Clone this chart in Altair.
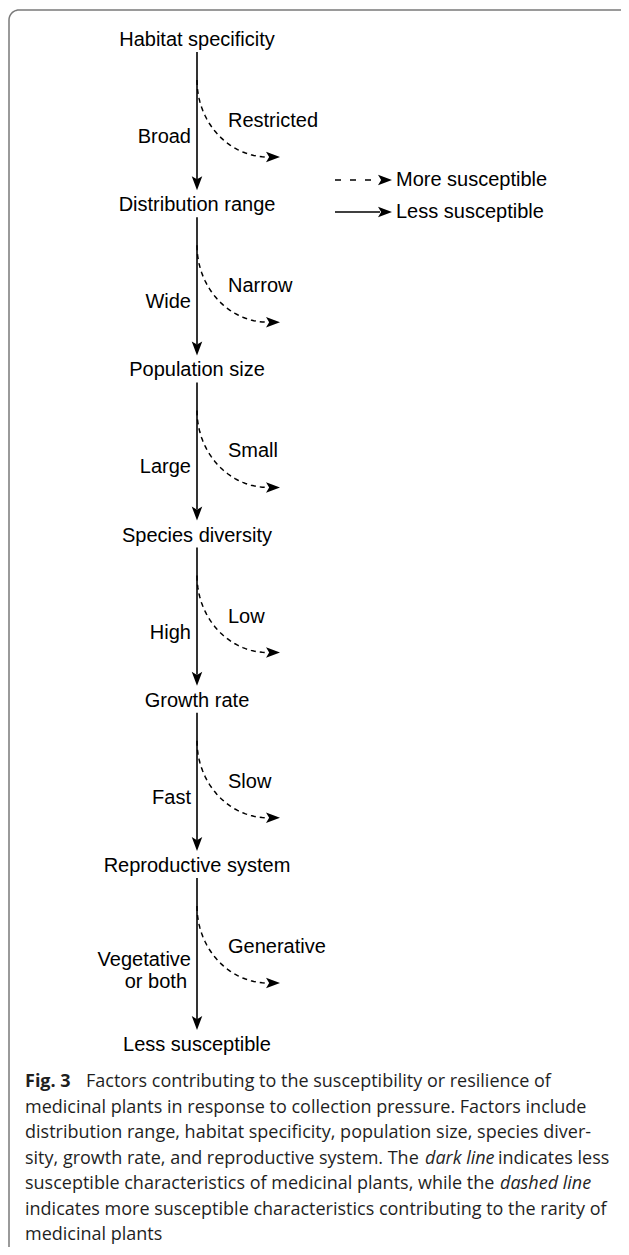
import altair as alt
import pandas as pd
import numpy as np

# ---------------- data ----------------
nodes = ["Habitat specificity", "Distribution range", "Population size",
         "Species diversity", "Growth rate", "Reproductive system",
         "Less susceptible"]
solid_labels = ["Broad", "Wide", "Large", "High", "Fast", "Vegetative\nor both"]
dashed_labels = ["Restricted", "Narrow", "Small", "Low", "Slow", "Generative"]
legend_labels = ["More susceptible", "Less susceptible"]
legend_styles = ["dashed", "solid"]

caption_lines = [
    [("Fig. 3", "bold"), ("Factors contributing to the susceptibility or resilience of", "normal")],
    [("medicinal plants in response to collection pressure. Factors include", "normal")],
    [("distribution range, habitat specificity, population size, species diver-", "normal")],
    [("sity, growth rate, and reproductive system. The", "normal"), ("dark line", "italic"), ("indicates less", "normal")],
    [("susceptible characteristics of medicinal plants, while the", "normal"), ("dashed line", "italic")],
    [("indicates more susceptible characteristics contributing to the rarity of", "normal")],
    [("medicinal plants", "normal")],
]
# x anchor of each caption segment (page px)
caption_seg_x = [[25, 86], [25], [25], [25, 425, 498], [25, 500], [25], [25]]

# ---------------- layout ----------------
W, H = 613, 1239
X0, Y0 = 8, 8
xs = alt.Scale(domain=[X0, X0 + W], nice=False, zero=False)
ys = alt.Scale(domain=[Y0, Y0 + H], nice=False, zero=False, reverse=True)

trunk_x = 197
node_top, node_step = 40, 165.2
node_y = [node_top + node_step * i for i in range(len(nodes) - 1)]
node_y.append(node_y[-1] + 179)

ARROW = 14  # arrowhead length
down_head = "M0,1 L-0.75,-1 L0,-0.55 L0.75,-1 Z"
right_head = "M1,0 L-1,-0.75 L-0.55,0 L-1,0.75 Z"

def X(f="x"):
    return alt.X(f"{f}:Q", scale=xs, axis=None)

def Y(f="y"):
    return alt.Y(f"{f}:Q", scale=ys, axis=None)

# node texts
df_nodes = pd.DataFrame({"text": nodes, "x": trunk_x, "y": node_y})

# solid trunk segments
seg_rows, head_rows = [], []
for i in range(len(nodes) - 1):
    tip = node_y[i + 1] - 15
    seg_rows.append({"x": trunk_x, "y": node_y[i] + 12, "y2": tip - ARROW + 3})
    head_rows.append({"x": trunk_x, "y": tip - ARROW / 2})
df_seg = pd.DataFrame(seg_rows)
df_head_down = pd.DataFrame(head_rows)

# solid labels
sl_rows = []
for i, lab in enumerate(solid_labels):
    parts = lab.split("\n")
    if len(parts) == 1:
        sl_rows.append({"text": parts[0], "x": trunk_x - 6, "y": node_y[i] + 97})
    else:
        for j, p in enumerate(parts):
            sl_rows.append({"text": p, "x": trunk_x - 6 - 4 * j, "y": node_y[i] + 94 + 22 * j})
df_sl = pd.DataFrame(sl_rows)

# dashed labels
df_dl = pd.DataFrame({"text": dashed_labels, "x": trunk_x + 31,
                      "y": [node_y[i] + 81 for i in range(len(dashed_labels))]})

# dashed curves (quarter ellipse) + heads
rx, ry = 71, 77
curve_rows, rhead_rows = [], []
t = np.linspace(0, np.pi / 2, 40)
for i in range(len(dashed_labels)):
    cx, cy = trunk_x + rx, node_y[i] + 40
    for k, tt in enumerate(t):
        curve_rows.append({"g": i, "k": k, "x": cx - rx * np.cos(tt), "y": cy + ry * np.sin(tt)})
    rhead_rows.append({"x": cx + ARROW / 2 - 2, "y": cy + ry})
df_curve = pd.DataFrame(curve_rows)

# legend
leg_x0, leg_x1 = 335, 380
leg_y = [180, 212]
df_leg_line = pd.DataFrame({"x": [leg_x0] * 2, "x2": [leg_x1] * 2, "y": leg_y, "style": legend_styles})
for yy in leg_y:
    rhead_rows.append({"x": leg_x1 + ARROW / 2 - 2, "y": yy})
df_head_right = pd.DataFrame(rhead_rows)
df_leg_text = pd.DataFrame({"text": legend_labels, "x": leg_x1 + 16, "y": leg_y})

# caption
cap_rows = []
cap_y0, cap_step = 1082, 25.5
for li, segs in enumerate(caption_lines):
    for si, (txt, sty) in enumerate(segs):
        cap_rows.append({"text": txt, "style": sty, "x": caption_seg_x[li][si],
                         "y": cap_y0 + cap_step * li})
df_cap = pd.DataFrame(cap_rows)

# frame (rounded top-left corner)
r = 10
fx, fy = 9, 10
frame_pts = [(X0 + W + 5, fy)]
for a in np.linspace(np.pi / 2, np.pi, 12):
    frame_pts.append((fx + r + r * np.cos(a), fy + r - r * np.sin(a)))
frame_pts.append((fx, Y0 + H + 5))
df_frame = pd.DataFrame({"k": range(len(frame_pts)), "x": [p[0] for p in frame_pts],
                         "y": [p[1] for p in frame_pts]})

FONT = "Liberation Sans"
CAPFONT = "Open Sans"
CAPSIZE = 18
INK = "#000000"
CAPINK = "#1f1f1f"

frame = alt.Chart(df_frame).mark_line(color="#7a7a7a", strokeWidth=1.5, clip=True).encode(
    x=X(), y=Y(), order="k:Q")

node_text = alt.Chart(df_nodes).mark_text(font=FONT, fontSize=20, color=INK, align="center",
                                          baseline="middle").encode(x=X(), y=Y(), text="text:N")

trunk = alt.Chart(df_seg).mark_rule(color=INK, strokeWidth=1.6).encode(x=X(), y=Y(), y2="y2:Q")

heads_down = alt.Chart(df_head_down).mark_point(shape=down_head, size=ARROW ** 2, filled=True,
                                                color=INK, opacity=1).encode(x=X(), y=Y())

heads_right = alt.Chart(df_head_right).mark_point(shape=right_head, size=ARROW ** 2, filled=True,
                                                  color=INK, opacity=1).encode(x=X(), y=Y())

curves = alt.Chart(df_curve).mark_line(color=INK, strokeWidth=1.5, strokeDash=[5, 4]).encode(
    x=X(), y=Y(), detail="g:N", order="k:Q")

solid_text = alt.Chart(df_sl).mark_text(font=FONT, fontSize=20, color=INK, align="right",
                                        baseline="middle").encode(x=X(), y=Y(), text="text:N")

dashed_text = alt.Chart(df_dl).mark_text(font=FONT, fontSize=20, color=INK, align="left",
                                         baseline="middle").encode(x=X(), y=Y(), text="text:N")

leg_dash = alt.Chart(df_leg_line[df_leg_line["style"] == "dashed"]).mark_rule(
    color=INK, strokeWidth=1.5, strokeDash=[6, 9]).encode(x=X(), x2="x2:Q", y=Y())
leg_solid = alt.Chart(df_leg_line[df_leg_line["style"] == "solid"]).mark_rule(
    color=INK, strokeWidth=1.6).encode(x=X(), x2="x2:Q", y=Y())

leg_text = alt.Chart(df_leg_text).mark_text(font=FONT, fontSize=20, color=INK, align="left",
                                            baseline="middle").encode(x=X(), y=Y(), text="text:N")

def cap_layer(style, **kw):
    sub = df_cap[df_cap["style"] == style]
    return alt.Chart(sub).mark_text(font=CAPFONT, fontSize=CAPSIZE, color=CAPINK, align="left",
                                    baseline="middle", **kw).encode(x=X(), y=Y(), text="text:N")

cap_layers = [
    cap_layer("normal"),
    cap_layer("bold", fontWeight="bold"),
    cap_layer("italic", fontStyle="italic"),
]

chart = alt.layer(
    frame, trunk, curves, heads_down, heads_right, node_text, solid_text, dashed_text,
    leg_dash, leg_solid, leg_text, *cap_layers
).properties(
    width=W, height=H, padding=0, autosize=alt.AutoSizeParams(type="none")
).configure_view(stroke=None)

chart.save("out.html", embed_options={"renderer": "svg", "actions": False})
